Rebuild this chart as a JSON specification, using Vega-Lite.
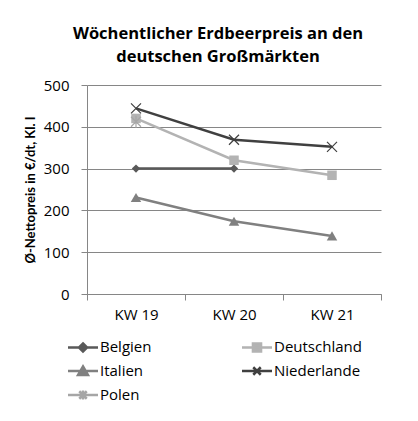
{
  "$schema": "https://vega.github.io/schema/vega-lite/v6.json",
  "width": 294,
  "height": 209,
  "autosize": {"type": "none"},
  "padding": {"left": 87, "top": 85, "right": 37, "bottom": 127},
  "background": "white",
  "title": {
    "text": ["Wöchentlicher Erdbeerpreis an den", "deutschen Großmärkten"],
    "font": "Open Sans",
    "fontSize": 16.5,
    "fontWeight": "bold",
    "color": "#000000",
    "anchor": "middle",
    "dx": -16,
    "offset": 13,
    "lineHeight": 23
  },
  "config": {
    "view": {"stroke": null},
    "axis": {
      "labelFont": "Open Sans",
      "labelFontSize": 15,
      "labelColor": "#000000",
      "domainColor": "#868686",
      "tickColor": "#868686",
      "gridColor": "#868686",
      "tickSize": 6
    }
  },
  "resolve": {"scale": {"shape": "independent", "size": "independent"}},
  "data": {
    "values": [
      {"land": "Belgien", "kw": "KW 19", "preis": 300},
      {"land": "Belgien", "kw": "KW 20", "preis": 300},
      {"land": "Deutschland", "kw": "KW 19", "preis": 420},
      {"land": "Deutschland", "kw": "KW 20", "preis": 320},
      {"land": "Deutschland", "kw": "KW 21", "preis": 284},
      {"land": "Italien", "kw": "KW 19", "preis": 231},
      {"land": "Italien", "kw": "KW 20", "preis": 174},
      {"land": "Italien", "kw": "KW 21", "preis": 139},
      {"land": "Niederlande", "kw": "KW 19", "preis": 444},
      {"land": "Niederlande", "kw": "KW 20", "preis": 369},
      {"land": "Niederlande", "kw": "KW 21", "preis": 352},
      {"land": "Polen", "kw": "KW 19", "preis": 412}
    ]
  },
  "encoding": {
    "x": {
      "field": "kw",
      "type": "ordinal",
      "bandPosition": 0.5,
      "scale": {"type": "band", "paddingInner": 0, "paddingOuter": 0, "domain": ["KW 19", "KW 20", "KW 21"]},
      "axis": {"title": null, "labelAngle": 0, "tickBand": "extent", "grid": false, "labelPadding": 7}
    },
    "y": {
      "field": "preis",
      "type": "quantitative",
      "scale": {"domain": [0, 500], "nice": false},
      "axis": {
        "values": [0, 100, 200, 300, 400, 500],
        "title": "Ø-Nettopreis  in €/dt, Kl. I",
        "titleFont": "Lato",
        "titleFontSize": 13,
        "titleFontWeight": "bold",
        "titleColor": "#000000",
        "titlePadding": 6,
        "labelPadding": 12,
        "grid": true
      }
    },
    "color": {
      "field": "land",
      "type": "nominal",
      "scale": {
        "domain": ["Belgien", "Deutschland", "Italien", "Niederlande", "Polen"],
        "range": ["#595959", "#b3b3b3", "#808080", "#404040", "#a6a6a6"]
      }
    }
  },
  "layer": [
    {
      "mark": {"type": "line", "strokeWidth": 2.5},
      "encoding": {
        "color": {
          "field": "land",
          "type": "nominal",
          "legend": {
            "title": null,
            "orient": "none",
            "direction": "horizontal",
            "legendX": -13,
            "legendY": 253,
            "columns": 2,
            "columnPadding": 85,
            "rowPadding": 4,
            "labelFont": "Open Sans",
            "labelFontSize": 15,
            "labelColor": "#000000",
            "labelOffset": 8,
            "symbolSize": 225,
            "symbolStrokeWidth": 2.5,
            "encode": {
              "symbols": {
                "update": {
                  "shape": {"signal": "datum.value === 'Belgien' ? 'M-2,0H2M0,-0.54L0.54,0L0,0.54L-0.54,0Z' : datum.value === 'Deutschland' ? 'M-2,0H2M-0.54,-0.54H0.54V0.54H-0.54Z' : datum.value === 'Italien' ? 'M-2,0H2M0,-0.6L0.66,0.54H-0.66Z' : datum.value === 'Niederlande' ? 'M-2,0H2M-0.5,-0.5L0.5,0.5M-0.5,0.5L0.5,-0.5' : 'M-2,0H2M-0.5,-0.5L0.5,0.5M-0.5,0.5L0.5,-0.5M0,-0.6V0.6'"},
                  "fill": {"scale": "color", "field": "value"},
                  "fillOpacity": {"value": 1}
                }
              }
            }
          }
        }
      }
    },
    {
      "transform": [{"filter": "datum.land === 'Belgien' || datum.land === 'Deutschland' || datum.land === 'Italien'"}],
      "mark": {"type": "point", "filled": true, "opacity": 1},
      "encoding": {
        "shape": {
          "field": "land",
          "type": "nominal",
          "scale": {"domain": ["Belgien", "Deutschland", "Italien"], "range": ["diamond", "square", "triangle-up"]},
          "legend": null
        },
        "size": {
          "field": "land",
          "type": "nominal",
          "scale": {"domain": ["Belgien", "Deutschland", "Italien"], "range": [70, 110, 130]},
          "legend": null
        },
        "color": {"field": "land", "type": "nominal", "legend": null}
      }
    },
    {
      "transform": [{"filter": "datum.land === 'Niederlande' || datum.land === 'Polen'"}],
      "mark": {"type": "point", "filled": false, "opacity": 1, "strokeWidth": 1.2, "size": 100},
      "encoding": {
        "shape": {
          "field": "land",
          "type": "nominal",
          "scale": {"domain": ["Niederlande", "Polen"], "range": ["M-1,-1L1,1M-1,1L1,-1", "M-1,-1L1,1M-1,1L1,-1M0,-1.2V1.2"]},
          "legend": null
        },
        "color": {"field": "land", "type": "nominal", "legend": null}
      }
    }
  ]
}
